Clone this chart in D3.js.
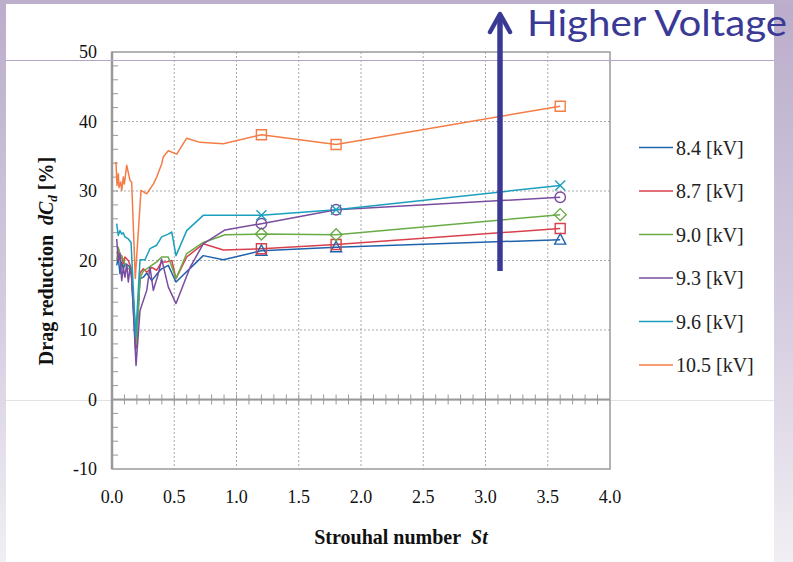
<!DOCTYPE html>
<html>
<head>
<meta charset="utf-8">
<script src="https://cdn.jsdelivr.net/npm/d3@7/dist/d3.min.js"></script>
<style>
  body { margin: 0; background: #fff; }
  svg { display: block; }
</style>
</head>
<body>
<div id="chart"></div>
<script>
var width = 793;
var height = 562;

// series names / colors
var seriesNames = ["8.4 [kV]", "8.7 [kV]", "9.0 [kV]", "9.3 [kV]", "9.6 [kV]", "10.5 [kV]"];
var seriesColors = ["#1f63ad", "#d8404d", "#6aab46", "#7a4c9f", "#1a9fbe", "#f47c45"];
var seriesMarkers = ["triangle", "square", "diamond", "circle", "x", "square"];

// Strouhal number / drag reduction
var st84 = [0.038, 0.05, 0.064, 0.078, 0.091, 0.104, 0.131, 0.153, 0.19, 0.225, 0.252, 0.279, 0.319, 0.372, 0.399, 0.452, 0.514, 0.733, 0.894, 1.2, 1.8, 3.6];
var dc84 = [19.3, 20.5, 18.1, 19.8, 18.8, 19.5, 19.3, 18.8, 7.1, 17.4, 17.6, 18.2, 17.1, 18.3, 18.8, 19.3, 16.9, 20.7, 20.1, 21.4, 21.9, 23.0];

var st87 = [0.038, 0.05, 0.064, 0.078, 0.091, 0.104, 0.131, 0.153, 0.195, 0.225, 0.252, 0.279, 0.319, 0.359, 0.399, 0.439, 0.48, 0.514, 0.6, 0.733, 0.894, 1.2, 1.8, 3.6];
var dc87 = [21.0, 21.5, 20.0, 20.7, 19.5, 20.5, 20.0, 19.0, 7.5, 18.2, 18.8, 18.3, 19.0, 18.6, 19.8, 19.8, 20.0, 17.4, 20.5, 22.4, 21.5, 21.7, 22.3, 24.6];

var st90 = [0.038, 0.05, 0.064, 0.078, 0.091, 0.104, 0.131, 0.153, 0.198, 0.225, 0.252, 0.279, 0.319, 0.359, 0.399, 0.452, 0.514, 0.6, 0.733, 0.908, 1.2, 1.8, 3.6];
var dc90 = [20.0, 21.9, 21.0, 20.5, 20.2, 19.5, 18.8, 19.0, 8.0, 17.5, 18.5, 18.8, 19.3, 19.8, 20.5, 20.5, 17.4, 21.0, 22.6, 23.7, 23.8, 23.7, 26.6];

var st93 = [0.038, 0.05, 0.064, 0.078, 0.091, 0.104, 0.118, 0.131, 0.145, 0.158, 0.193, 0.225, 0.279, 0.305, 0.332, 0.372, 0.399, 0.452, 0.514, 0.627, 0.733, 0.908, 1.2, 1.8, 3.6];
var dc93 = [23.1, 20.0, 21.0, 17.1, 19.0, 17.6, 19.5, 16.9, 19.0, 17.8, 4.9, 12.8, 15.7, 19.0, 15.7, 18.1, 20.2, 16.2, 13.8, 19.0, 22.4, 24.4, 25.3, 27.3, 29.1];

var st96 = [0.038, 0.05, 0.064, 0.078, 0.09, 0.104, 0.131, 0.153, 0.19, 0.225, 0.265, 0.305, 0.359, 0.399, 0.452, 0.48, 0.514, 0.6, 0.733, 1.2, 1.8, 3.6];
var dc96 = [25.3, 23.6, 24.3, 23.8, 24.0, 23.4, 23.1, 22.6, 9.0, 20.1, 20.1, 21.7, 22.2, 23.4, 23.8, 24.1, 20.7, 24.3, 26.5, 26.5, 27.3, 30.8];

var st105 = [0.024, 0.032, 0.04, 0.051, 0.056, 0.07, 0.078, 0.091, 0.099, 0.118, 0.145, 0.158, 0.187, 0.233, 0.279, 0.332, 0.359, 0.399, 0.412, 0.452, 0.52, 0.6, 0.707, 0.894, 1.2, 1.8, 3.6];
var dc105 = [34.0, 34.1, 30.8, 32.5, 30.5, 31.3, 30.1, 32.0, 31.0, 33.7, 31.5, 31.3, 17.4, 30.1, 29.6, 31.0, 32.0, 33.9, 34.9, 35.8, 35.3, 37.6, 37.0, 36.8, 38.1, 36.7, 42.2];

// St values where markers are drawn
var markerSt = [1.2, 1.8, 3.6];

var xTicks = [0, 0.5, 1, 1.5, 2, 2.5, 3, 3.5, 4];
var yTicks = [-10, 0, 10, 20, 30, 40, 50];

var allSt = [st84, st87, st90, st93, st96, st105];
var allDc = [dc84, dc87, dc90, dc93, dc96, dc105];

var svg = d3.select("#chart").append("svg")
  .attr("width", width)
  .attr("height", height);

// slide background ++++++++++++++++++++++++++++
var defs = svg.append("defs");
var grad = defs.append("linearGradient").attr("id", "sideGrad")
  .attr("x1", 0).attr("y1", 0).attr("x2", 0).attr("y2", 1);
grad.append("stop").attr("offset", "0%").attr("stop-color", "#baadcb");
grad.append("stop").attr("offset", "55%").attr("stop-color", "#d4cce0");
grad.append("stop").attr("offset", "100%").attr("stop-color", "#f1eff3");

svg.append("rect").attr("width", width).attr("height", height).attr("fill", "url(#sideGrad)");
svg.append("rect").attr("x", 0).attr("y", 0).attr("width", width).attr("height", 5).attr("fill", "#bcafcc");
svg.append("rect").attr("x", 6).attr("y", 4).attr("width", 768).attr("height", height - 4).attr("fill", "#ffffff");
svg.append("line").attr("x1", 6).attr("x2", 774).attr("y1", 400.5).attr("y2", 400.5)
  .attr("stroke", "#e2e2e6").attr("stroke-width", 1);

// scales
var xScale = d3.scaleLinear().domain([0, 4]).range([112, 610]);
var yScale = d3.scaleLinear().domain([-10, 50]).range([469, 52]);

var plot = svg.append("g");

// grid lines
plot.selectAll(".vgrid").data(xTicks.slice(1, -1)).enter().append("line")
  .attr("x1", function (d) { return xScale(d); })
  .attr("x2", function (d) { return xScale(d); })
  .attr("y1", yScale(50)).attr("y2", yScale(-10))
  .attr("stroke", "#a8a8a8").attr("stroke-width", 1).attr("stroke-dasharray", "2,2");

plot.selectAll(".hgrid").data([10, 20, 30, 40]).enter().append("line")
  .attr("x1", xScale(0)).attr("x2", xScale(4))
  .attr("y1", function (d) { return yScale(d); })
  .attr("y2", function (d) { return yScale(d); })
  .attr("stroke", "#a8a8a8").attr("stroke-width", 1).attr("stroke-dasharray", "2,2");

// frame
plot.append("rect")
  .attr("x", xScale(0)).attr("y", yScale(50))
  .attr("width", xScale(4) - xScale(0)).attr("height", yScale(-10) - yScale(50))
  .attr("fill", "none").attr("stroke", "#9a9a9a").attr("stroke-width", 1.5);
plot.append("line").attr("x1", xScale(0)).attr("x2", xScale(0))
  .attr("y1", yScale(50)).attr("y2", yScale(-10))
  .attr("stroke", "#999").attr("stroke-width", 2.5);

// zero line with crossing minor ticks
plot.append("line").attr("x1", xScale(0)).attr("x2", xScale(4))
  .attr("y1", yScale(0)).attr("y2", yScale(0))
  .attr("stroke", "#999").attr("stroke-width", 2);
plot.selectAll(".xminor").data(d3.range(1, 40)).enter().append("line")
  .attr("x1", function (d) { return xScale(d / 10); })
  .attr("x2", function (d) { return xScale(d / 10); })
  .attr("y1", yScale(0) - 5).attr("y2", yScale(0) + 5)
  .attr("stroke", "#999").attr("stroke-width", 1);

// y minor ticks (every 2)
plot.selectAll(".yminor").data(d3.range(-8, 50, 2)).enter().append("line")
  .attr("x1", xScale(0)).attr("x2", xScale(0) + 6)
  .attr("y1", function (d) { return yScale(d); })
  .attr("y2", function (d) { return yScale(d); })
  .attr("stroke", "#999").attr("stroke-width", 1);

// tick labels
svg.selectAll(".ylab").data(yTicks).enter().append("text")
  .attr("x", 97).attr("y", function (d) { return yScale(d); })
  .attr("dy", "0.35em")
  .attr("text-anchor", "end")
  .attr("font-family", "'Liberation Serif', 'Times New Roman', serif")
  .attr("font-size", "18px").attr("fill", "#111")
  .text(function (d) { return d; });

svg.selectAll(".xlab").data(xTicks).enter().append("text")
  .attr("x", function (d) { return xScale(d); }).attr("y", 503)
  .attr("text-anchor", "middle")
  .attr("font-family", "'Liberation Serif', 'Times New Roman', serif")
  .attr("font-size", "18px").attr("fill", "#111")
  .text(function (d) { return d.toFixed(1); });

// axis titles
var xTitle = svg.append("text")
  .attr("x", 401).attr("y", 544)
  .attr("text-anchor", "middle")
  .attr("font-family", "'Liberation Serif', 'Times New Roman', serif")
  .attr("font-size", "20px").attr("font-weight", "bold").attr("fill", "#111");
xTitle.append("tspan").text("Strouhal number\u00a0\u00a0");
xTitle.append("tspan").attr("font-style", "italic").text("St");

var yTitle = svg.append("text")
  .attr("transform", "translate(53,261) rotate(-90)")
  .attr("text-anchor", "middle")
  .attr("font-family", "'Liberation Serif', 'Times New Roman', serif")
  .attr("font-size", "20px").attr("font-weight", "bold").attr("fill", "#111");
yTitle.append("tspan").text("Drag reduction\u00a0\u00a0");
yTitle.append("tspan").attr("font-style", "italic").text("dC");
yTitle.append("tspan").attr("font-style", "italic").attr("font-size", "13px").attr("dy", 4).text("d");
yTitle.append("tspan").attr("dy", -4).text(" [%]");

// lines
var line = d3.line()
  .x(function (d) { return xScale(d[0]); })
  .y(function (d) { return yScale(d[1]); });

var lines = plot.append("g");
var marks = plot.append("g");

function markerPath(type) {
  if (type === "square") return "M-5,-5H5V5H-5Z";
  if (type === "triangle") return "M0,-6L5.5,4.5H-5.5Z";
  if (type === "diamond") return "M0,-6L6,0L0,6L-6,0Z";
  if (type === "circle") return d3.symbol().type(d3.symbolCircle).size(85)();
  return "M-5,-5L5,5M-5,5L5,-5";
}

allSt.forEach(function (stArr, i) {
  var pts = stArr.map(function (s, j) { return [s, allDc[i][j]]; });
  lines.append("path")
    .datum(pts)
    .attr("d", line)
    .attr("fill", "none")
    .attr("stroke", seriesColors[i])
    .attr("stroke-width", 1.5)
    .attr("stroke-linejoin", "round");

  var mpts = pts.filter(function (p) { return markerSt.indexOf(p[0]) >= 0; });
  marks.selectAll(null).data(mpts).enter().append("path")
    .attr("transform", function (d) { return "translate(" + xScale(d[0]) + "," + yScale(d[1]) + ")"; })
    .attr("d", markerPath(seriesMarkers[i]))
    .attr("fill", "none")
    .attr("stroke", seriesColors[i])
    .attr("stroke-width", 1.4);
});

// legend
var legend = svg.append("g");
seriesNames.forEach(function (name, i) {
  var y = 147.5 + i * 43.5;
  legend.append("line").attr("x1", 639).attr("x2", 673).attr("y1", y).attr("y2", y)
    .attr("stroke", seriesColors[i]).attr("stroke-width", 1.5);
  legend.append("text").attr("x", 676).attr("y", y).attr("dy", "0.35em")
    .attr("font-family", "'Liberation Serif', 'Times New Roman', serif")
    .attr("font-size", "20px").attr("fill", "#222")
    .text(name);
});

// slide line across the top
svg.append("line").attr("x1", 6).attr("x2", 774).attr("y1", 60.5).attr("y2", 60.5)
  .attr("stroke", "#b2a5c6").attr("stroke-width", 1);

// arrow + label
var arrowColor = "#3a3a96";
svg.append("line").attr("x1", 500).attr("x2", 500).attr("y1", 271).attr("y2", 16)
  .attr("stroke", arrowColor).attr("stroke-width", 5.5);
svg.append("path").attr("d", "M490,32L500,14L510,32")
  .attr("fill", "none").attr("stroke", arrowColor).attr("stroke-width", 4.5)
  .attr("stroke-linecap", "round").attr("stroke-linejoin", "round");
svg.append("text").attr("x", 527).attr("y", 36)
  .attr("font-family", "Lato, 'Open Sans', sans-serif")
  .attr("font-size", "36px").attr("fill", arrowColor)
  .attr("textLength", 260).attr("lengthAdjust", "spacingAndGlyphs")
  .text("Higher Voltage");
</script>
</body>
</html>
